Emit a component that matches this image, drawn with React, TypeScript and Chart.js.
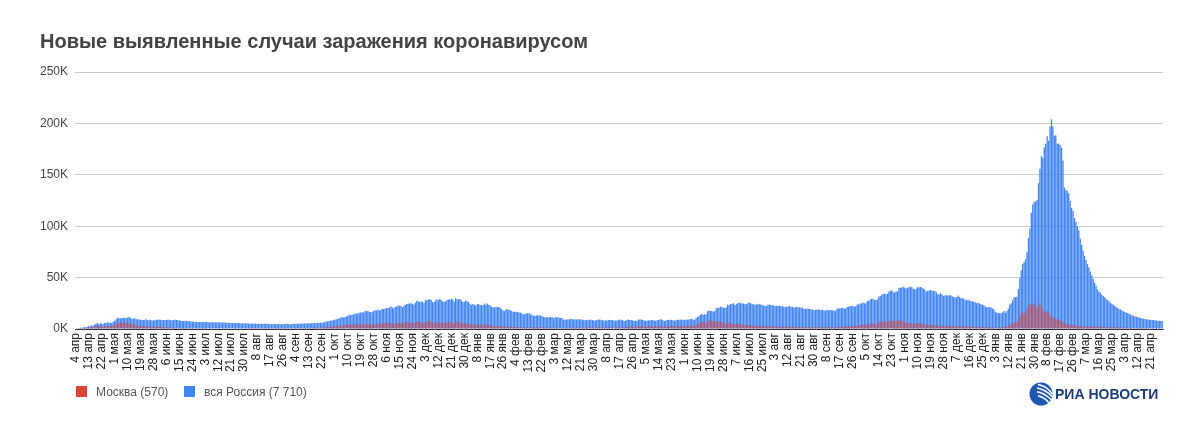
import React, { useEffect, useRef } from "react";
import { Chart, registerables } from "chart.js";

Chart.register(...registerables);

const TITLE = "Новые выявленные случаи заражения коронавирусом";
const SERIES_NAMES = ["Москва", "вся Россия"];
const SERIES_COLORS = ["#db4437", "#4285f4"];
const MONTHS = ["янв", "фев", "мар", "апр", "мая", "июн", "июл", "авг", "сен", "окт", "ноя", "дек"];
const START_DATE = Date.UTC(2020, 3, 4);
const TICK_EVERY = 9;
const Y_MAX = 250;
const Y_STEP = 50;

// ---- вся Россия, new cases per day (thousands) ----
const ruApr2020 = [0.6,0.7,1.0,1.2,1.2,1.5,1.8,1.7,2.2,2.6,2.8,3.4,3.4,4.1,4.8,6.1,4.3,5.6,5.2,4.8,5.8,6.0,6.4,6.2,6.4,5.8,7.1];
const ruMay2020 = [7.9,9.6,10.6,10.6,10.1,10.6,11.2,10.7,10.8,11.0,11.7,10.9,10.0,10.0,10.6,9.2,9.7,8.9,9.3,8.8,8.8,8.9,9.4,8.6,8.9,8.9,8.3,8.4,8.6,9.0,9.3];
const ruJun2020 = [9.0,8.9,8.5,8.8,8.7,8.9,9.0,9.0,8.6,8.4,8.8,9.0,8.7,8.8,8.2,8.2,7.8,7.8,8.0,7.9,7.7,7.6,7.4,7.2,7.1,6.8,6.9,6.8,6.7,6.7];
const ruJul2020 = [6.6,6.8,6.7,6.7,6.6,6.4,6.6,6.6,6.5,6.6,6.6,6.6,6.5,6.2,6.4,6.4,6.4,6.2,6.1,5.9,5.8,5.9,5.8,5.8,5.9,5.8,5.6,5.4,5.5,5.5,5.5];
const ruAug2020 = [5.5,5.4,5.2,5.2,5.3,5.2,5.2,5.2,5.1,5.1,4.9,5.1,5.1,5.1,5.1,5.0,4.8,4.7,4.7,4.8,4.9,4.9,4.9,4.7,4.7,4.7,4.8,4.9,5.0,4.9,4.7];
const ruSep2020 = [4.7,5.0,5.1,5.1,5.2,5.2,5.2,5.1,5.4,5.4,5.4,5.4,5.5,5.5,5.5,5.7,5.8,5.9,6.1,6.1,6.2,6.2,6.4,6.6,7.2,7.5,7.9,8.1,8.2,8.5];
const ruOct2020 = [8.9,9.4,9.9,10.5,10.9,11.6,11.1,11.5,12.1,12.8,13.6,13.6,13.9,14.2,14.9,15.2,15.1,15.7,16.0,16.3,16.0,17.3,17.8,17.3,16.7,16.6,16.2,17.7,18.3,18.1,18.7];
const ruNov2020 = [18.3,18.6,19.8,19.4,19.9,20.6,20.5,21.0,21.8,21.0,19.9,21.6,22.0,22.8,22.6,22.4,21.0,22.4,23.6,24.3,24.8,24.6,25.2,24.3,23.7,25.5,27.5,27.1,26.3,26.7];
const ruDec2020 = [26.4,25.3,28.1,28.2,28.8,29.0,28.1,26.1,26.2,27.9,28.6,28.1,29.4,28.1,26.7,26.5,27.0,28.2,28.6,28.9,29.3,28.8,26.7,29.9,29.0,28.9,29.3,27.8,26.5,26.2,27.7];
const ruJan2021 = [27.0,26.3,24.2,23.4,24.2,23.5,22.9,24.2,24.1,23.3,23.3,22.9,24.8,23.7,24.7,23.6,22.9,21.7,21.2,21.1,21.5,21.3,21.1,20.9,19.3,17.7,17.6,19.1,19.0,18.7,18.4];
const ruFeb2021 = [17.6,16.6,16.7,16.7,16.6,16.0,15.9,15.4,14.2,14.5,15.0,15.3,15.2,14.2,14.2,12.7,12.8,13.2,13.4,13.4,13.0,12.6,11.7,11.4,11.2,11.5,11.5,11.6];
const ruMar2021 = [11.6,10.5,11.4,11.4,11.4,11.0,10.9,10.6,9.1,9.1,9.3,9.3,9.6,9.9,9.6,9.4,9.3,9.2,9.4,9.4,9.3,9.3,8.5,8.4,8.8,9.0,9.1,9.1,8.7,8.3,8.2];
const ruApr2021 = [8.8,9.2,9.1,8.9,8.6,8.3,8.3,8.3,9.0,8.8,8.7,8.6,8.2,8.2,8.3,8.7,9.3,8.6,8.7,7.8,8.1,8.8,9.3,8.8,8.7,8.6,7.8,8.1,8.1,9.2];
const ruMay2021 = [9.3,9.3,8.7,8.2,8.0,8.3,8.4,8.5,8.5,8.7,8.2,8.0,8.4,8.8,9.2,9.3,8.6,7.9,8.3,8.8,8.9,8.7,9.0,8.6,8.1,8.4,8.9,9.0,9.1,9.3,9.0];
const ruJun2021 = [8.9,9.0,9.1,9.3,9.4,9.7,9.2,8.9,10.4,11.7,12.5,13.5,14.7,13.7,14.2,14.1,17.3,17.9,17.6,17.4,16.7,17.6,20.2,20.4,21.0,21.7,21.7,20.5,20.6,21.0];
const ruJul2021 = [23.5,23.2,24.4,24.4,25.1,23.4,24.0,25.1,25.8,25.1,24.7,24.8,24.4,24.0,25.3,25.7,25.0,24.4,23.9,23.8,23.7,24.5,24.1,23.9,23.3,22.8,22.4,22.6,23.7,23.6,23.3];
const ruAug2021 = [23.2,22.8,22.4,22.6,22.4,22.7,22.1,22.1,21.7,21.4,21.6,21.9,22.3,21.6,21.7,20.8,21.0,21.6,21.1,21.0,21.0,20.6,19.5,19.6,20.0,19.6,19.7,19.3,18.9,18.3,18.8];
const ruSep2021 = [19.0,19.0,18.8,18.6,18.4,17.9,17.8,18.8,18.2,18.4,18.6,18.3,17.5,17.8,19.6,19.9,20.2,20.3,20.6,19.7,20.2,21.4,21.6,22.2,22.4,22.5,21.7,22.2,23.9,23.9];
const ruOct2021 = [24.5,25.1,25.8,25.0,25.1,27.2,27.6,28.7,29.4,29.4,28.2,28.2,28.7,31.3,32.2,33.2,34.3,34.3,33.7,34.1,36.3,37.1,37.7,35.7,35.7,36.4,36.6,40.1,40.1,40.3,41.0];
const ruNov2021 = [40.4,39.4,40.2,40.7,41.3,40.7,39.2,38.4,39.2,40.8,40.4,40.8,40.1,39.3,38.4,36.6,37.2,37.4,37.9,37.1,37.1,37.0,35.7,33.6,33.9,34.7,33.6,32.1,32.6,32.9];
const ruDec2021 = [32.6,32.9,32.8,31.9,31.1,30.9,30.8,32.6,31.1,30.2,29.9,29.6,28.5,28.0,28.4,27.8,26.9,26.9,26.6,26.1,25.2,25.7,24.7,24.0,23.6,23.2,21.9,21.1,21.3,21.1,21.2];
const ruJan2022 = [20.1,18.9,16.7,15.9,15.7,15.3,15.3,16.2,17.5,15.8,17.5,19.8,23.8,25.1,28.0,30.7,30.9,31.3,38.9,49.5,57.2,63.2,65.1,67.8,74.7,88.8,97.8,113.1,121.2,123.5,124.1];
const ruFeb2022 = [125.8,141.9,155.8,168.2,166.6,176.8,180.1,187.5,183.1,197.1,203.9,197.1,187.9,188.4,180.1,180.5,179.1,176.5,164.0,137.6,135.0,134.5,132.0,124.5,118.0,115.0,108.0,104.0];
const ruMar2022 = [100.0,96.0,88.0,82.0,76.0,71.0,67.0,63.0,60.0,56.0,52.0,49.0,45.0,42.0,38.5,36.5,35.5,33.5,32.0,31.0,29.5,28.0,27.0,25.5,24.5,23.5,22.5,21.5,20.5,19.5,19.0];
const ruApr2022 = [18.0,17.2,16.5,15.8,15.5,14.8,14.0,13.4,12.8,12.2,11.9,11.6,11.2,10.6,10.3,10.0,9.7,9.4,9.3,9.1,8.9,8.8,8.6,8.4,8.2,8.1,8.0,7.9,7.71];

// ---- Москва, new cases per day (thousands) ----
const mskApr2020 = [0.5,0.5,0.6,0.7,0.6,0.9,1.1,1.0,1.4,1.5,1.5,1.5,1.8,2.6,3.1,3.6,2.5,2.6,2.3,1.9,3.1,2.8,3.0,2.9,2.8,2.2,3.7];
const mskMay2020 = [4.0,5.4,6.0,5.9,5.7,6.7,5.8,5.7,5.8,5.9,6.2,5.4,4.7,4.3,4.2,3.5,3.2,3.2,3.0,2.9,2.7,2.6,2.3,2.1,2.4,2.1,2.0,1.9,2.1,2.3,2.6];
const mskJun2020 = [2.3,2.0,1.6,1.7,1.6,1.6,1.6,1.6,1.4,1.2,1.2,1.2,1.0,1.1,1.1,1.0,1.0,1.1,1.0,0.9,0.8,0.8,0.9,0.9,0.8,0.7,0.8,0.7,0.7,0.7];
const mskJul2020 = [0.7,0.7,0.7,0.7,0.6,0.6,0.7,0.6,0.6,0.7,0.6,0.6,0.6,0.6,0.6,0.6,0.6,0.6,0.6,0.6,0.6,0.6,0.6,0.6,0.6,0.6,0.6,0.6,0.6,0.6,0.6];
const mskAug2020 = [0.7,0.7,0.7,0.7,0.7,0.7,0.7,0.7,0.7,0.7,0.7,0.7,0.7,0.7,0.7,0.7,0.7,0.7,0.7,0.7,0.7,0.7,0.7,0.7,0.7,0.7,0.7,0.7,0.7,0.7,0.7];
const mskSep2020 = [0.7,0.7,0.7,0.7,0.7,0.7,0.7,0.7,0.7,0.8,0.8,0.8,0.9,0.9,0.9,1.0,1.1,1.1,1.1,1.3,1.2,1.3,1.6,1.6,1.8,2.0,2.0,2.2,2.3,2.4];
const mskOct2020 = [2.4,2.7,3.5,3.5,3.8,3.2,4.0,3.7,4.1,4.6,4.8,4.2,4.1,4.1,4.6,4.9,5.0,4.6,4.2,4.3,3.9,4.6,4.9,5.0,5.0,4.6,4.0,4.3,4.6,4.6,5.3];
const mskNov2020 = [5.3,5.1,5.7,5.5,6.0,6.0,6.0,5.9,5.8,5.0,4.6,5.9,5.8,6.0,6.4,6.0,5.2,5.6,6.4,7.2,6.9,6.4,6.2,5.9,5.4,6.1,7.2,7.0,6.6,6.5];
const mskDec2020 = [6.0,5.8,6.9,7.2,7.9,8.0,7.0,5.6,5.5,6.9,6.7,6.8,6.4,6.4,5.5,5.6,5.9,6.6,6.9,7.0,7.0,5.6,5.5,8.2,7.0,6.8,6.9,5.6,5.3,5.3,5.9];
const mskJan2021 = [5.9,5.3,4.5,4.4,4.7,4.0,3.6,4.6,4.5,4.3,4.5,3.5,4.5,4.6,4.6,4.0,3.9,3.0,2.8,2.8,3.0,3.0,2.8,2.6,2.4,2.3,2.3,2.4,2.3,2.1,2.0];
const mskFeb2021 = [2.0,1.8,1.9,2.0,1.9,1.7,1.6,1.5,1.5,1.5,1.6,1.7,1.7,1.5,1.4,1.4,1.5,1.5,1.6,1.6,1.5,1.4,1.2,1.2,1.2,1.3,1.4,1.3];
const mskMar2021 = [1.2,1.1,1.3,1.2,1.3,1.2,1.1,1.0,0.9,1.0,1.1,1.2,1.2,1.3,1.1,1.1,1.2,1.3,1.4,1.5,1.4,1.3,1.2,1.3,1.5,1.5,1.6,1.6,1.3,1.3,1.3];
const mskApr2021 = [1.4,1.6,1.6,1.5,1.3,1.2,1.3,1.5,1.5,1.6,1.6,1.5,1.3,1.4,1.5,1.6,1.7,1.8,1.5,1.4,1.6,2.1,2.3,2.1,2.0,1.9,1.6,1.8,2.2,2.8];
const mskMay2021 = [2.9,2.8,2.6,2.3,2.2,2.4,2.6,2.7,2.8,2.7,2.4,2.3,2.5,2.6,2.7,2.8,2.3,2.2,2.5,2.6,2.6,2.6,2.7,2.6,2.3,2.4,2.8,2.8,2.9,3.1,2.8];
const mskJun2021 = [2.6,2.7,2.9,3.0,3.1,3.5,3.2,3.2,3.7,4.4,5.5,6.7,7.6,6.6,5.8,5.8,7.7,9.1,9.1,8.0,7.0,6.6,7.9,7.5,7.4,7.4,6.8,5.8,4.6,5.0];
const mskJul2021 = [6.6,6.5,5.6,5.4,4.4,4.4,4.9,5.7,5.6,4.9,4.4,4.2,3.9,4.0,4.0,4.1,3.6,3.4,3.2,3.1,3.1,3.2,3.1,3.0,2.9,2.6,2.4,2.5,2.7,2.7,2.6];
const mskAug2021 = [2.6,2.4,2.2,2.3,2.4,2.5,2.4,2.3,2.0,2.0,2.2,2.3,2.4,2.3,2.1,1.8,1.9,2.1,2.1,2.1,2.0,1.9,1.6,1.7,1.8,1.8,1.8,1.7,1.6,1.5,1.6];
const mskSep2021 = [1.7,1.8,1.8,1.8,1.7,1.4,1.5,1.8,1.8,1.9,1.9,1.8,1.5,1.6,2.0,2.2,2.3,2.3,2.3,2.1,2.4,2.7,2.9,3.0,3.1,3.0,2.7,3.1,3.5,3.6];
const mskOct2021 = [3.8,4.0,4.6,4.0,3.9,4.3,4.8,5.2,5.3,5.5,4.6,4.4,5.3,6.3,7.4,7.7,7.4,7.3,6.9,7.5,8.0,8.0,8.6,8.0,7.5,7.6,8.3,8.5,8.6,8.0,7.1];
const mskNov2021 = [6.8,6.0,6.1,6.1,5.3,5.1,4.9,5.0,6.1,6.1,5.9,5.6,5.0,4.7,4.1,3.8,4.4,4.4,4.1,4.0,3.9,3.3,3.2,3.1,3.4,3.5,3.2,3.0,2.6,3.2];
const mskDec2021 = [3.2,3.1,3.0,2.9,2.6,2.4,2.6,3.0,2.9,2.7,2.6,2.5,2.2,2.3,2.5,2.4,2.2,2.1,2.0,1.8,2.0,2.1,2.0,1.9,1.8,1.6,1.5,1.7,1.8,1.8,1.6];
const mskJan2022 = [1.5,1.4,1.3,1.4,1.4,1.3,1.4,1.8,2.1,2.0,2.5,3.2,4.1,5.1,6.0,6.6,5.6,6.7,9.0,12.0,15.8,16.1,15.0,16.5,19.6,21.8,23.9,24.7,24.1,24.4,21.4];
const mskFeb2022 = [20.2,24.1,25.5,22.7,19.5,16.8,16.2,17.8,16.0,13.1,12.3,11.2,10.1,9.6,9.4,8.9,8.5,7.5,7.0,6.0,5.5,5.2,4.8,4.4,4.0,3.8,3.5,3.2];
const mskMar2022 = [3.0,2.9,2.8,2.7,2.6,2.4,2.3,2.3,2.4,2.5,2.5,2.4,2.2,2.0,2.1,2.2,2.2,2.1,2.0,1.8,1.7,1.8,1.9,1.8,1.8,1.7,1.6,1.5,1.6,1.6,1.6];
const mskApr2022 = [1.5,1.4,1.3,1.3,1.2,1.2,1.1,1.1,1.0,1.0,0.9,0.9,0.9,0.9,0.8,0.8,0.8,0.8,0.8,0.7,0.7,0.7,0.7,0.7,0.7,0.6,0.6,0.6,0.57];

const russia = [
  ...ruApr2020, ...ruMay2020, ...ruJun2020, ...ruJul2020, ...ruAug2020, ...ruSep2020,
  ...ruOct2020, ...ruNov2020, ...ruDec2020, ...ruJan2021, ...ruFeb2021, ...ruMar2021,
  ...ruApr2021, ...ruMay2021, ...ruJun2021, ...ruJul2021, ...ruAug2021, ...ruSep2021,
  ...ruOct2021, ...ruNov2021, ...ruDec2021, ...ruJan2022, ...ruFeb2022, ...ruMar2022, ...ruApr2022,
];
const moscow = [
  ...mskApr2020, ...mskMay2020, ...mskJun2020, ...mskJul2020, ...mskAug2020, ...mskSep2020,
  ...mskOct2020, ...mskNov2020, ...mskDec2020, ...mskJan2021, ...mskFeb2021, ...mskMar2021,
  ...mskApr2021, ...mskMay2021, ...mskJun2021, ...mskJul2021, ...mskAug2021, ...mskSep2021,
  ...mskOct2021, ...mskNov2021, ...mskDec2021, ...mskJan2022, ...mskFeb2022, ...mskMar2022, ...mskApr2022,
];

const dates = russia.map((_, i) => {
  const d = new Date(START_DATE + i * 86400000);
  return `${d.getUTCDate()} ${MONTHS[d.getUTCMonth()]}`;
});

const fmt = (k: number) =>
  String(Math.round(k * 1000)).replace(/\B(?=(\d{3})+(?!\d))/g, " ");

const LEGEND = [
  `${SERIES_NAMES[0]} (${fmt(moscow[moscow.length - 1])})`,
  `${SERIES_NAMES[1]} (${fmt(russia[russia.length - 1])})`,
];

const FONT = "'Liberation Sans', Arial, sans-serif";
const W = 1203;
const H = 432;

export default function App() {
  const ref = useRef<HTMLCanvasElement | null>(null);

  useEffect(() => {
    if (!ref.current) return;
    const chart = new Chart(ref.current, {
      type: "bar",
      data: {
        labels: dates,
        datasets: [
          {
            label: LEGEND[0],
            data: moscow,
            backgroundColor: "rgba(219,68,55,0.6)",
            grouped: false,
            barPercentage: 1,
            categoryPercentage: 0.9,
            inflateAmount: 0,
          } as any,
          {
            label: LEGEND[1],
            data: russia,
            backgroundColor: SERIES_COLORS[1],
            grouped: false,
            barPercentage: 1,
            categoryPercentage: 0.9,
            inflateAmount: 0,
          } as any,
        ],
      },
      options: {
        responsive: false,
        animation: false,
        layout: { padding: { top: 72, right: 40, bottom: 0, left: 0 } },
        plugins: {
          legend: { display: false },
          tooltip: { enabled: false },
          title: { display: false },
        },
        scales: {
          x: {
            type: "category",
            offset: true,
            grid: { display: false, drawTicks: false },
            border: { display: true, color: "#333333", width: 1 },
            ticks: {
              autoSkip: false,
              maxRotation: 90,
              minRotation: 90,
              padding: 4,
              color: "#222222",
              font: { family: FONT, size: 12 },
              callback: (_v: any, i: number) => (i % TICK_EVERY === 0 ? dates[i] : ""),
            },
            afterFit: (s: any) => {
              s.height = 103;
            },
          },
          y: {
            min: 0,
            max: Y_MAX,
            grid: { color: "#cccccc", drawTicks: false },
            border: { display: false },
            ticks: {
              stepSize: Y_STEP,
              padding: 7,
              color: "#444444",
              font: { family: FONT, size: 12 },
              callback: (v: any) => `${v}K`,
            },
            afterFit: (s: any) => {
              s.width = 75;
            },
          },
        },
      } as any,
    });
    return () => chart.destroy();
  }, []);

  return (
    <div style={{ position: "absolute", left: 0, top: 0, width: W, height: H, background: "#fff", fontFamily: FONT }}>
      <canvas ref={ref} width={W} height={H} style={{ position: "absolute", left: 0, top: 0, width: W, height: H }} />
      <div
        style={{
          position: "absolute",
          left: 40,
          top: 31.4,
          fontSize: 20,
          lineHeight: "20px",
          fontWeight: "bold",
          color: "#434343",
          whiteSpace: "nowrap",
        }}
      >
        {TITLE}
      </div>
      {LEGEND.map((txt, i) => (
        <React.Fragment key={txt}>
          <div
            style={{
              position: "absolute",
              left: i === 0 ? 76 : 184,
              top: 386,
              width: 11,
              height: 11,
              background: SERIES_COLORS[i],
            }}
          />
          <div
            style={{
              position: "absolute",
              left: i === 0 ? 96 : 204,
              top: 385.8,
              fontSize: 12,
              lineHeight: "12px",
              color: "#555555",
              whiteSpace: "nowrap",
            }}
          >
            {txt}
          </div>
        </React.Fragment>
      ))}
      <svg
        width={24}
        height={24}
        viewBox="0 0 24 24"
        style={{ position: "absolute", left: 1029, top: 381.5 }}
      >
        <circle cx={12} cy={12} r={11.5} fill="#1f57b3" />
        <path d="M9 2.5 C15 3.5 20 7 23 12" stroke="#fff" strokeWidth={1.5} fill="none" />
        <path d="M8 6 C14 7 19 10 23.5 15" stroke="#fff" strokeWidth={1.5} fill="none" />
        <path d="M8 9.8 C13.5 10.8 18 13.5 22.5 18" stroke="#fff" strokeWidth={1.5} fill="none" />
        <path d="M9 13.8 C13.5 14.8 17 17 20 21" stroke="#fff" strokeWidth={1.5} fill="none" />
      </svg>
      <div
        style={{
          position: "absolute",
          left: 1055,
          top: 387.4,
          fontSize: 14,
          lineHeight: "14px",
          fontWeight: "bold",
          color: "#1c3c7a",
          whiteSpace: "nowrap",
        }}
      >
        РИА НОВОСТИ
      </div>
    </div>
  );
}
